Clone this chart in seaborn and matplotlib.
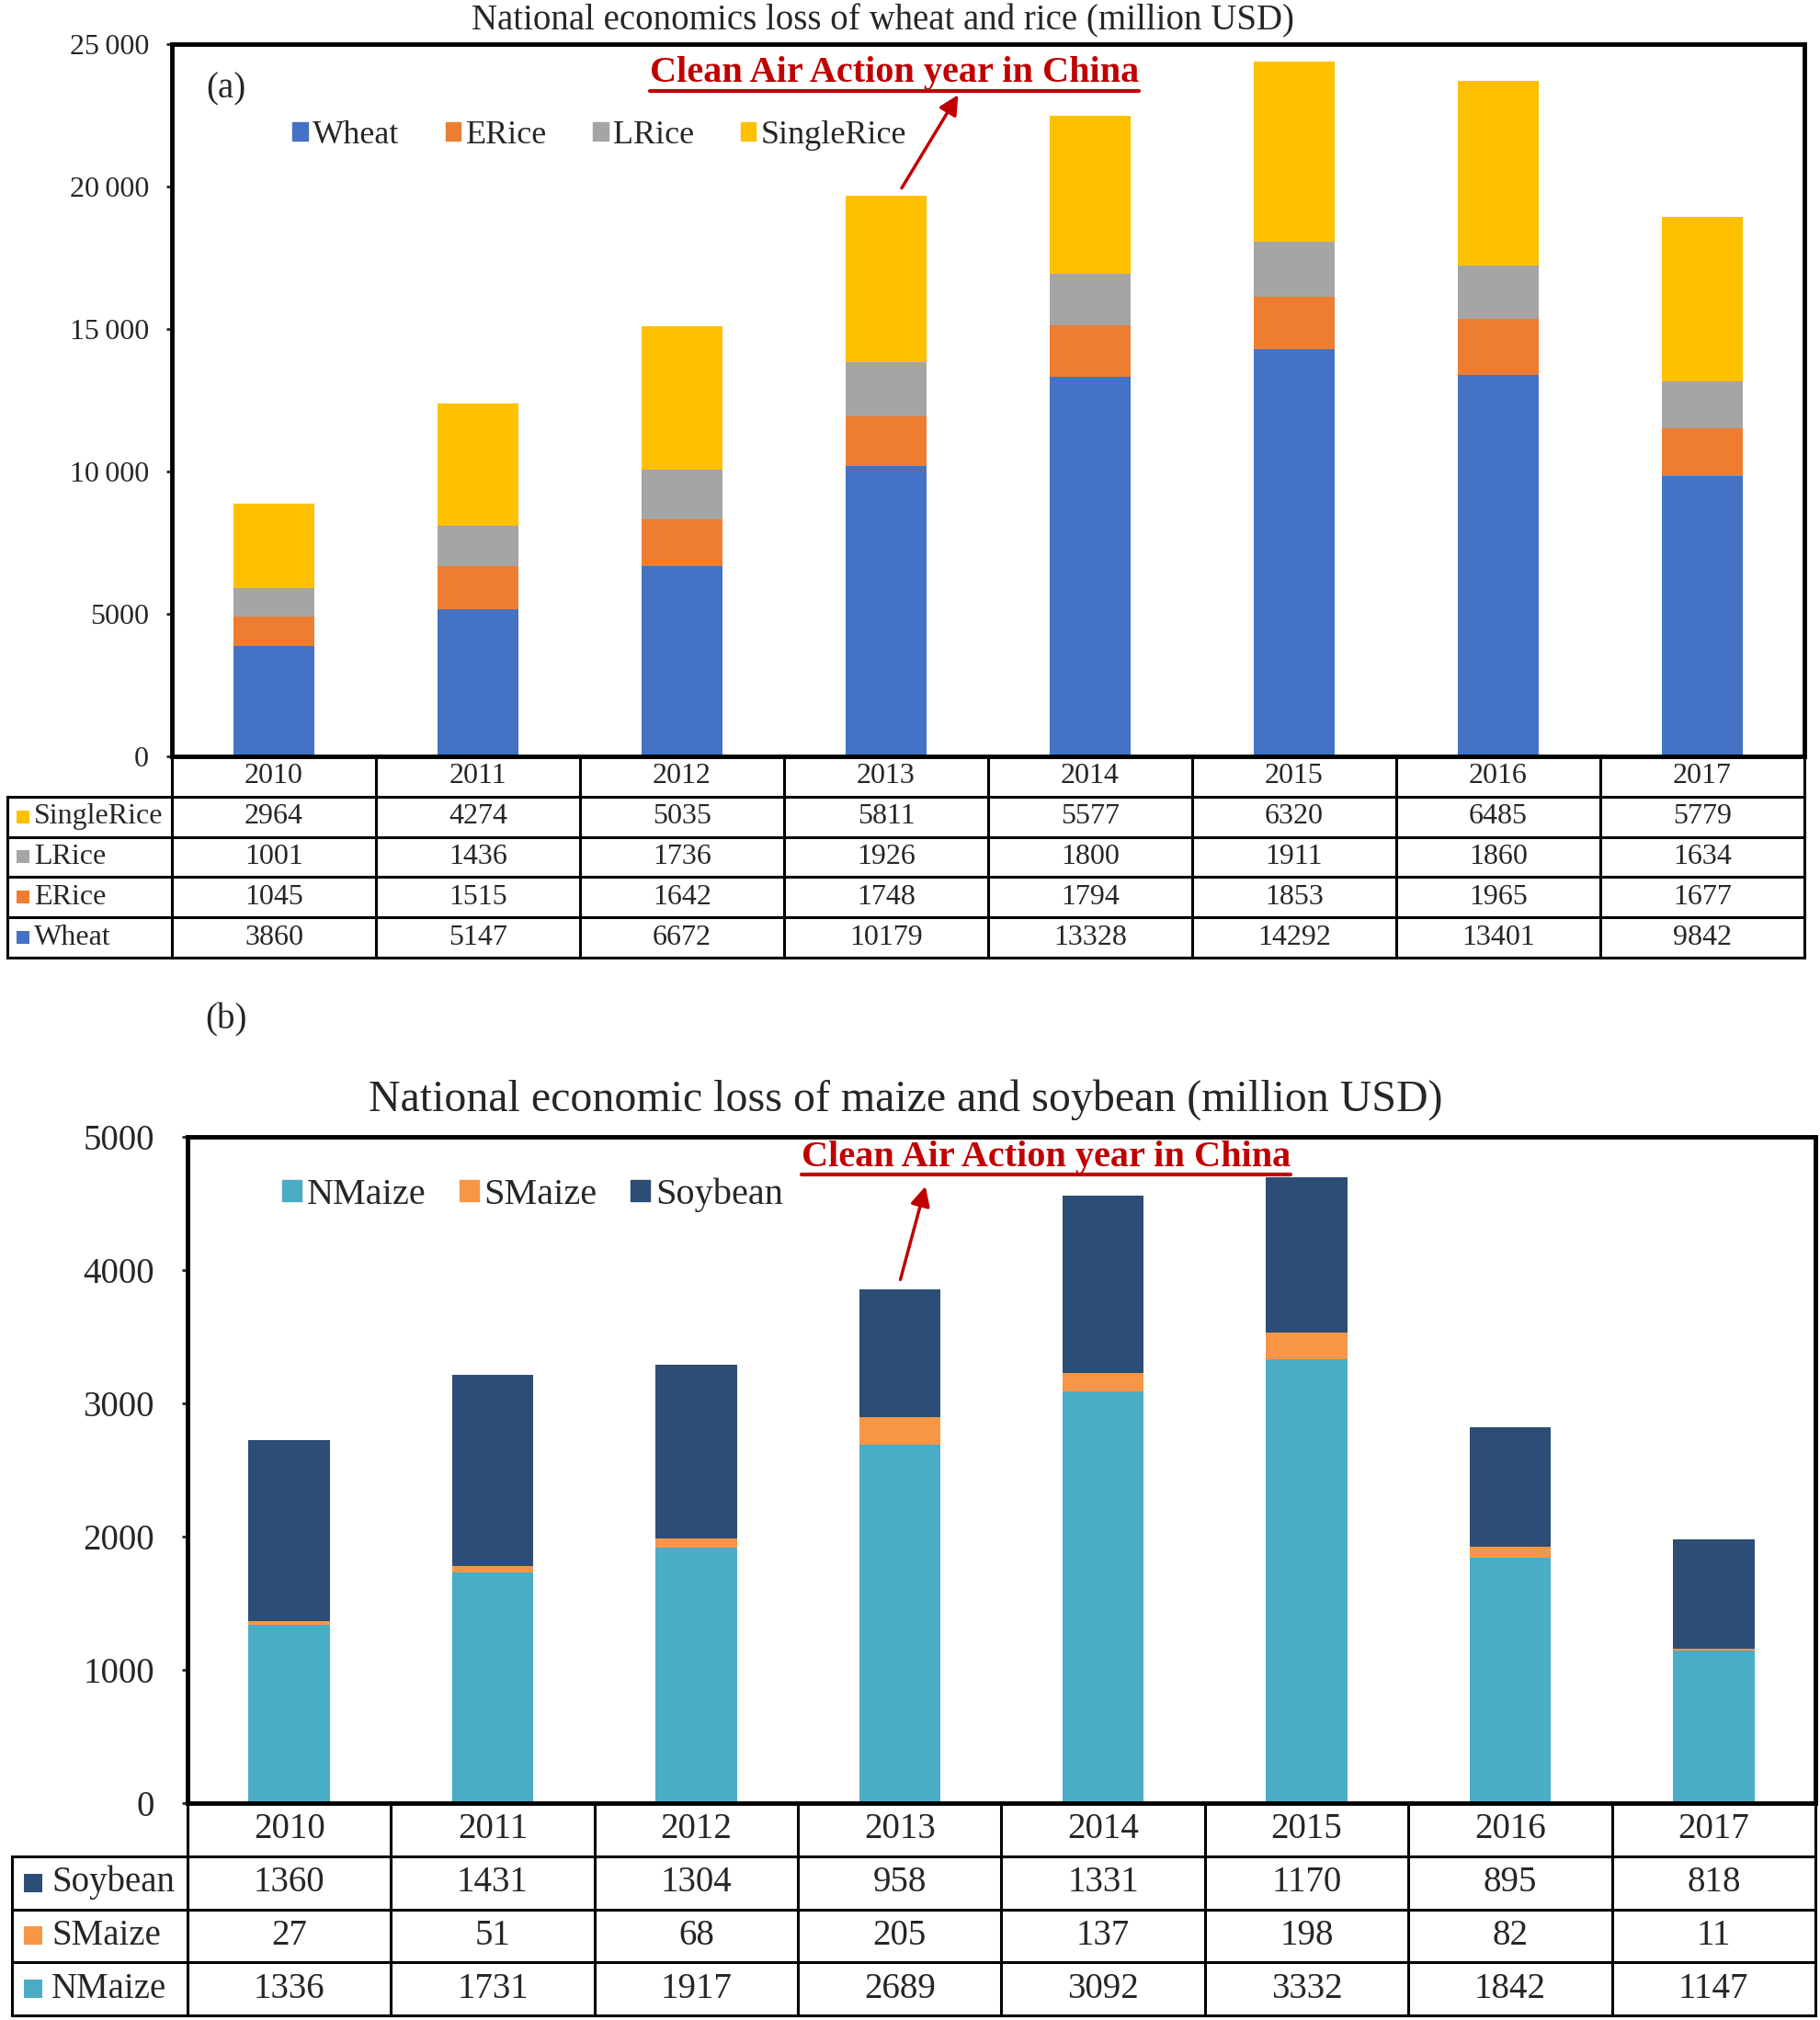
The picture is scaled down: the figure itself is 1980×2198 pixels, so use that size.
import matplotlib
matplotlib.use("Agg")
import numpy as np
import pandas as pd
import matplotlib.pyplot as plt
import seaborn as sns
from matplotlib.patches import Patch

years = ["2010", "2011", "2012", "2013", "2014", "2015", "2016", "2017"]

# (a) wheat and rice loss, million USD (stack order bottom -> top)
wheat = [3860, 5147, 6672, 10179, 13328, 14292, 13401, 9842]
erice = [1045, 1515, 1642, 1748, 1794, 1853, 1965, 1677]
lrice = [1001, 1436, 1736, 1926, 1800, 1911, 1860, 1634]
single_rice = [2964, 4274, 5035, 5811, 5577, 6320, 6485, 5779]

# (b) maize and soybean loss, million USD
nmaize = [1336, 1731, 1917, 2689, 3092, 3332, 1842, 1147]
smaize = [27, 51, 68, 205, 137, 198, 82, 11]
soybean = [1360, 1431, 1304, 958, 1331, 1170, 895, 818]

ticks_a = [0, 5000, 10000, 15000, 20000, 25000]
ticklabels_a = ["0", "5000", "10\u2009000", "15\u2009000", "20\u2009000", "25\u2009000"]
ticks_b = [0, 1000, 2000, 3000, 4000, 5000]
ticklabels_b = ["0", "1000", "2000", "3000", "4000", "5000"]

title_a = "National economics loss of wheat and rice (million USD)"
title_b = "National economic loss of maize and soybean (million USD)"
note = "Clean Air Action year in China"

colors_a = {"Wheat": "#4472C4", "ERice": "#ED7D31", "LRice": "#A5A5A5", "SingleRice": "#FFC000"}
colors_b = {"NMaize": "#4BACC6", "SMaize": "#F79646", "Soybean": "#2C4D75"}
RED = "#C00000"

sns.set_theme(style="white")
plt.rcParams["font.family"] = ["Liberation Serif", "DejaVu Serif"]

W, H = 1981, 2198
fig = plt.figure(figsize=(W / 100, H / 100), dpi=100)


def px_axes(x0, y0, x1, y1):
    # pixel box (top-left origin) -> figure axes
    return fig.add_axes([x0 / W, 1 - y1 / H, (x1 - x0) / W, (y1 - y0) / H])


def stacked(ax, df, colors):
    cum = df.cumsum(axis=1)
    for name in reversed(df.columns):
        sns.barplot(x=years, y=cum[name].values, color=colors[name], width=0.4,
                    saturation=1, edgecolor="none", ax=ax)
    ax.set_xlim(-0.5, 7.5)
    ax.set_xlabel("")
    ax.set_ylabel("")
    ax.set_xticks([])
    for sp in ax.spines.values():
        sp.set_visible(True)
        sp.set_linewidth(3.5)
        sp.set_color("black")


def draw_table(tax, df, colors, fs, labw, sq_off, sq_size, txt_off):
    rows = list(reversed(df.columns))
    n = len(rows)
    tax.set_xlim(-0.5, 7.5)
    tax.set_ylim(0, n + 1)
    tax.axis("off")
    kw = dict(color="black", lw=2.2, clip_on=False, solid_capstyle="projecting")
    left = -0.5 - labw
    for i in range(n + 1):
        tax.plot([left, 7.5], [i, i], **kw)
    tax.plot([-0.5, 7.5], [n + 1, n + 1], **kw)
    tax.plot([left, left], [0, n], **kw)
    for k in range(9):
        tax.plot([k - 0.5, k - 0.5], [0, n + 1], **kw)
    for j, y in enumerate(years):
        tax.text(j, n + 0.5, y, ha="center", va="center", fontsize=fs, clip_on=False)
    for r, name in enumerate(rows):
        yc = n - r - 0.5
        tax.plot(left + sq_off, yc, marker="s", ms=sq_size, color=colors[name],
                 clip_on=False, mew=0)
        tax.text(left + txt_off, yc, name, ha="left", va="center", fontsize=fs, clip_on=False)
        for j, v in enumerate(df[name].values):
            tax.text(j, yc, str(v), ha="center", va="center", fontsize=fs, clip_on=False)


df_a = pd.DataFrame({"Wheat": wheat, "ERice": erice, "LRice": lrice, "SingleRice": single_rice},
                    index=years)
df_b = pd.DataFrame({"NMaize": nmaize, "SMaize": smaize, "Soybean": soybean}, index=years)

# ---- panel (a)
ax_a = px_axes(187, 48, 1963, 823)
stacked(ax_a, df_a, colors_a)
ax_a.set_ylim(0, 25000)
ax_a.set_yticks(ticks_a)
ax_a.set_yticklabels(ticklabels_a, fontsize=23)
ax_a.tick_params(axis="y", length=4, width=2, pad=14, left=True)
ax_a.legend(handles=[Patch(color=colors_a[c], label=c) for c in df_a.columns],
            loc="center left", bbox_to_anchor=(0.074, 0.872), ncol=4, frameon=False,
            fontsize=26, handlelength=0.45, handleheight=0.45, handletextpad=0.15,
            columnspacing=1.4, borderpad=0, borderaxespad=0)
ax_a.annotate("", xy=(3.36, 23300), xytext=(3.07, 19870),
              arrowprops=dict(arrowstyle="-|>", color=RED, lw=2.5, mutation_scale=32))
note_a = ax_a.text(3.04, 23970, note, ha="center", va="center", color=RED,
                   fontsize=29, fontweight="bold")

tax_a = px_axes(187, 823, 1963, 1042)
draw_table(tax_a, df_a, colors_a, 23, 0.806, 0.077, 9.5, 0.13)

fig.text(961 / W, 1 - 23 / H, title_a, ha="center", va="center", fontsize=28)
fig.text(246 / W, 1 - 97 / H, "(a)", ha="center", va="center", fontsize=28)

# ---- panel (b)
ax_b = px_axes(204, 1237, 1975, 1962)
stacked(ax_b, df_b, colors_b)
ax_b.set_ylim(0, 5000)
ax_b.set_yticks(ticks_b)
ax_b.set_yticklabels(ticklabels_b, fontsize=28)
ax_b.tick_params(axis="y", length=4, width=2, pad=22, left=True)
ax_b.legend(handles=[Patch(color=colors_b[c], label=c) for c in df_b.columns],
            loc="center left", bbox_to_anchor=(0.058, 0.913), ncol=3, frameon=False,
            fontsize=29, handlelength=0.52, handleheight=0.52, handletextpad=0.15,
            columnspacing=0.9, borderpad=0, borderaxespad=0)
ax_b.annotate("", xy=(3.13, 4648), xytext=(3.0, 3910),
              arrowprops=dict(arrowstyle="-|>", color=RED, lw=2.5, mutation_scale=32))
note_b = ax_b.text(3.72, 4848, note, ha="center", va="center", color=RED,
                   fontsize=29, fontweight="bold")

tax_b = px_axes(204, 1962, 1975, 2193)
draw_table(tax_b, df_b, colors_b, 28, 0.863, 0.106, 14.5, 0.194)

fig.text(985 / W, 1 - 1197 / H, title_b, ha="center", va="center", fontsize=34.5)
fig.text(246 / W, 1 - 1110 / H, "(b)", ha="center", va="center", fontsize=28)

# underline the red notes
fig.canvas.draw()
for ax, t, yfrac in [(ax_a, note_a, 0.934), (ax_b, note_b, 0.9434)]:
    bb = t.get_window_extent()
    inv = ax.transAxes.inverted()
    x0 = inv.transform((bb.x0, bb.y0))[0]
    x1 = inv.transform((bb.x1, bb.y0))[0]
    ax.plot([x0, x1], [yfrac, yfrac], transform=ax.transAxes, color=RED, lw=3,
            clip_on=False)

fig.savefig("out.png", dpi=100)
